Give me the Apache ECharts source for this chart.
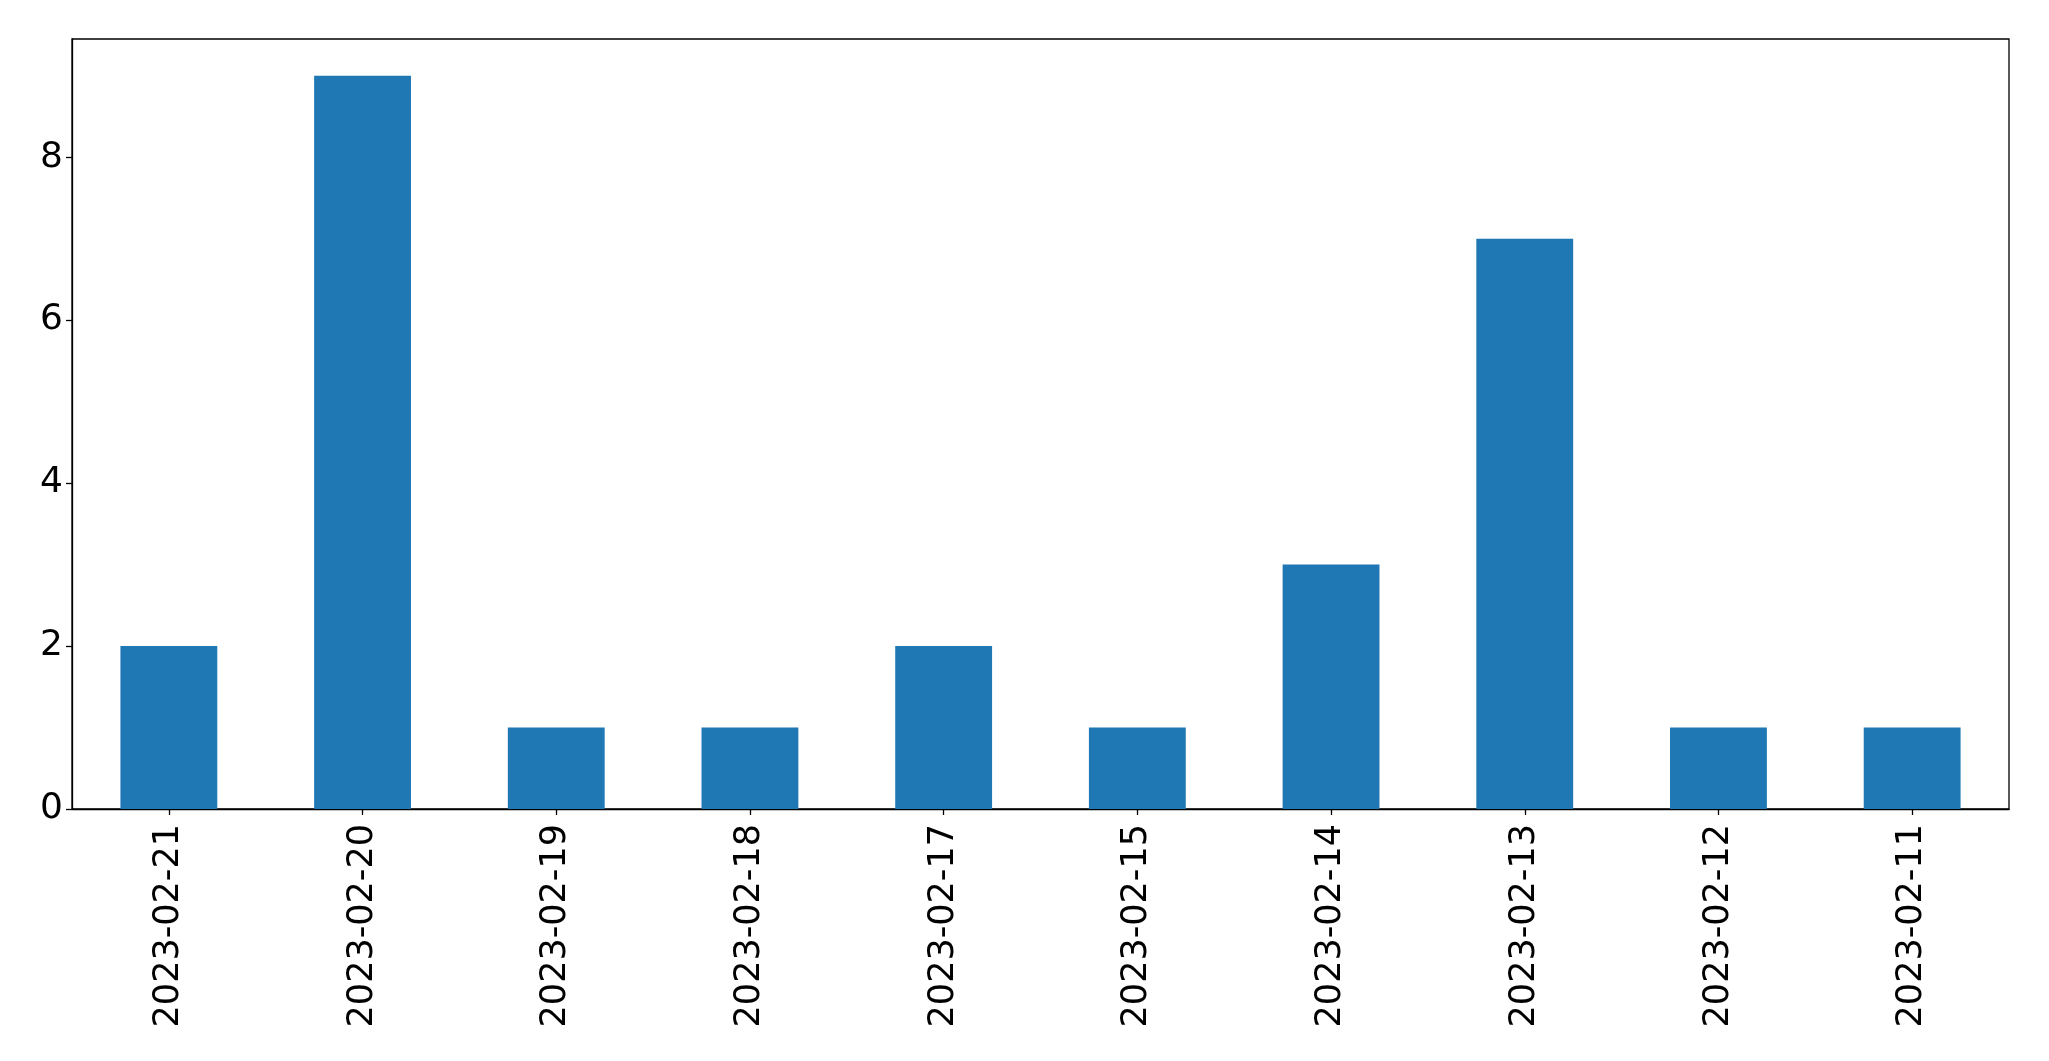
<!DOCTYPE html>
<html>
<head>
<meta charset="utf-8">
<script src="https://cdn.jsdelivr.net/npm/echarts@6/dist/echarts.min.js"></script>
<style>
html,body{margin:0;padding:0;background:#fff;}
#chart{width:2049px;height:1061px;}
</style>
</head>
<body>
<div id="chart"></div>
<script>
const categories = ['2023-02-21','2023-02-20','2023-02-19','2023-02-18','2023-02-17','2023-02-15','2023-02-14','2023-02-13','2023-02-12','2023-02-11'];
const values = [2, 9, 1, 1, 2, 1, 3, 7, 1, 1];
const yTicks = [0, 2, 4, 6, 8];

const chart = echarts.init(document.getElementById('chart'), null, {renderer: 'canvas'});
const font = 'DejaVu Sans';
chart.setOption({
  animation: false,
  backgroundColor: '#ffffff',
  grid: {
    left: 72, top: 39, right: 40, bottom: 252,
    show: true, borderColor: '#000', borderWidth: 1.3, backgroundColor: 'transparent'
  },
  xAxis: {
    type: 'category',
    data: categories,
    boundaryGap: true,
    axisLine: {show: true, lineStyle: {color: '#000', width: 1.3}},
    axisTick: {show: true, alignWithLabel: true, length: 6, lineStyle: {color: '#000', width: 1.3}},
    axisLabel: {rotate: 90, margin: 15, color: '#000', fontFamily: font, fontSize: 35, interval: 0},
    splitLine: {show: false}
  },
  yAxis: {
    type: 'value',
    min: 0,
    max: 9.45,
    interval: 2,
    axisLine: {show: true, lineStyle: {color: '#000', width: 1.3}},
    axisTick: {show: true, length: 6, lineStyle: {color: '#000', width: 1.3}, customValues: yTicks},
    axisLabel: {margin: 9, color: '#000', fontFamily: font, fontSize: 36, customValues: yTicks},
    splitLine: {show: false}
  },
  series: [{
    type: 'bar',
    data: values,
    barWidth: '50%',
    itemStyle: {color: '#1f77b4'}
  }]
});
</script>
</body>
</html>
